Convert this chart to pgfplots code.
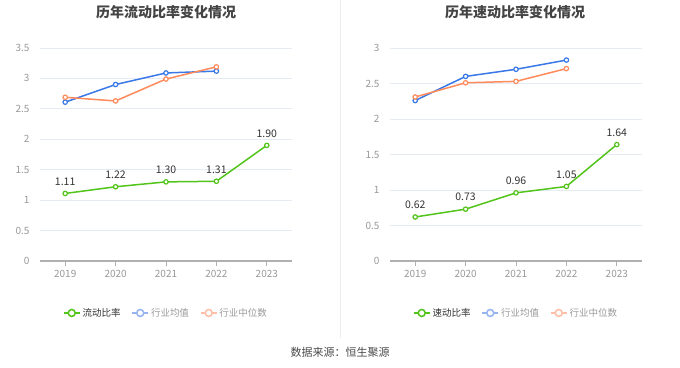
\documentclass[border=0pt]{standalone}
\usepackage{pgfplots}
\pgfplotsset{compat=1.18}
\usepackage{fontspec}
\setmainfont{Noto Sans CJK SC}
\definecolor{cgreen}{RGB}{82,196,26}
\definecolor{cblue}{RGB}{58,120,232}
\definecolor{corange}{RGB}{255,138,92}
\definecolor{cbluel}{RGB}{150,180,240}
\definecolor{corangel}{RGB}{255,190,165}
\definecolor{cgrid}{RGB}{230,234,242}
\definecolor{caxis}{RGB}{176,176,176}
\definecolor{ctick}{RGB}{153,153,153}
\definecolor{clabel}{RGB}{51,51,51}
\definecolor{ctitle}{RGB}{68,68,68}
\pgfplotsset{
  mystyle/.style={
    scale only axis, width=252pt, height=213pt,
    xmin=-0.5, xmax=4.5, xtick={0,1,2,3,4}, xticklabels={2019,2020,2021,2022,2023},
    ymin=0,
    axis lines*=left,
    y axis line style={draw=none},
    x axis line style={draw=caxis, line width=1.3pt},
    xtick style={draw=caxis, line width=0.8pt},
    ytick style={draw=none},
    tick align=outside, major tick length=5pt,
    ymajorgrids, grid style={cgrid, line width=0.8pt},
    ticklabel style={font=\fontsize{10}{12}\selectfont, text=ctick},
    yticklabel style={xshift=-2pt},
    xticklabel style={yshift=-1pt},
    /pgf/number format/assume math mode=true,
    clip=false,
    legend style={at={(0.5,-0.244)}, anchor=center, draw=none, fill=none,
      legend columns=3, font=\fontsize{9.5}{11}\selectfont,
      /tikz/every even column/.append style={column sep=9pt}},
    legend image code/.code={
      \draw[#1, mark=none] (0pt,0pt) -- (16pt,0pt);
      \draw[#1, only marks] plot coordinates {(8pt,0pt)};
    },
  },
  ser/.style={line width=1.5pt, mark=*, mark size=2.2pt, mark options={fill=white, line width=1.2pt}},
  lab/.style={nodes near coords={\pgfmathprintnumber[fixed,fixed zerofill,precision=2]{\pgfplotspointmeta}},
    nodes near coords style={font=\fontsize{10.5}{12}\selectfont, text=clabel, anchor=center, yshift=12pt}},
}
\begin{document}
\begin{tikzpicture}[x=1pt,y=1pt]
\path[use as bounding box, fill=white] (0,0) rectangle (680,367);
\draw[color=black!7, line width=0.8pt] (340,367) -- (340,29);
\node[font=\bfseries\fontsize{14}{16}\selectfont, text=ctitle] at (166,355) {历年流动比率变化情况};
\node[font=\bfseries\fontsize{14}{16}\selectfont, text=ctitle] at (515,355) {历年速动比率变化情况};
\node[font=\fontsize{11}{13}\selectfont, text=black!70] at (340,15) {数据来源：恒生聚源};

\begin{axis}[mystyle, at={(40pt,106pt)}, anchor=south west, ymax=3.5,
  ytick={0,0.5,1,1.5,2,2.5,3,3.5}]
\addplot[ser, color=cblue, forget plot] coordinates {(0,2.61) (1,2.90) (2,3.09) (3,3.12)};
\addplot[ser, color=corange, forget plot] coordinates {(0,2.69) (1,2.63) (2,2.99) (3,3.19)};
\addplot[ser, lab, color=cgreen, forget plot] coordinates {(0,1.11) (1,1.22) (2,1.30) (3,1.31) (4,1.90)};
\addlegendimage{cgreen, line width=1.5pt, mark=*, mark size=3.5pt, mark options={fill=white}}
\addlegendentry{\textcolor{clabel}{流动比率}}
\addlegendimage{cbluel, line width=1.5pt, mark=*, mark size=3.5pt, mark options={fill=white}}
\addlegendentry{\textcolor{ctick}{行业均值}}
\addlegendimage{corangel, line width=1.5pt, mark=*, mark size=3.5pt, mark options={fill=white}}
\addlegendentry{\textcolor{ctick}{行业中位数}}
\end{axis}

\begin{axis}[mystyle, at={(390pt,106pt)}, anchor=south west, ymax=3,
  ytick={0,0.5,1,1.5,2,2.5,3}]
\addplot[ser, color=cblue, forget plot] coordinates {(0,2.26) (1,2.60) (2,2.70) (3,2.83)};
\addplot[ser, color=corange, forget plot] coordinates {(0,2.31) (1,2.51) (2,2.53) (3,2.71)};
\addplot[ser, lab, color=cgreen, forget plot] coordinates {(0,0.62) (1,0.73) (2,0.96) (3,1.05) (4,1.64)};
\addlegendimage{cgreen, line width=1.5pt, mark=*, mark size=3.5pt, mark options={fill=white}}
\addlegendentry{\textcolor{clabel}{速动比率}}
\addlegendimage{cbluel, line width=1.5pt, mark=*, mark size=3.5pt, mark options={fill=white}}
\addlegendentry{\textcolor{ctick}{行业均值}}
\addlegendimage{corangel, line width=1.5pt, mark=*, mark size=3.5pt, mark options={fill=white}}
\addlegendentry{\textcolor{ctick}{行业中位数}}
\end{axis}
\end{tikzpicture}
\end{document}
